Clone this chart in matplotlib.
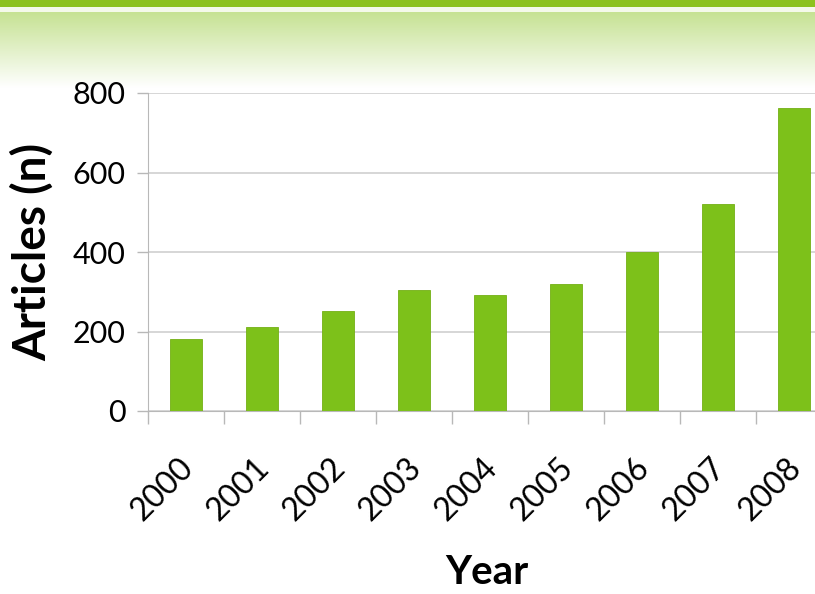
import numpy as np
import matplotlib.pyplot as plt
import matplotlib.transforms as mtransforms
from matplotlib.colors import LinearSegmentedColormap

years = ['2000', '2001', '2002', '2003', '2004', '2005', '2006', '2007', '2008']
articles = [181, 211, 252, 304, 292, 319, 400, 522, 763]
yticks = [0, 200, 400, 600, 800]

plt.rcParams['font.family'] = ['Lato', 'DejaVu Sans']

W, H = 815, 594
fig = plt.figure(figsize=(W / 100, H / 100), dpi=100)

# header band + gradient
bg = fig.add_axes([0, 0, 1, 1], zorder=0)
bg.set_axis_off()
bg.set_xlim(0, W)
bg.set_ylim(H, 0)
bg.axhspan(0, 7, color='#8cc21e', lw=0)
bg.axhspan(7, 12, color='#f4f9ea', lw=0)
cmap = LinearSegmentedColormap.from_list('g', ['#c6e293', '#ffffff'])
grad = np.linspace(0, 1, 200).reshape(-1, 1)
bg.imshow(grad, cmap=cmap, extent=[0, W, 88, 12], aspect='auto')

# plot area: left at 148px, spacing 76px per category, 0 at y=411, 800 at y=93
ax = fig.add_axes([148 / W, (H - 411) / H, 76 * 9 / W, 318 / H], zorder=1)
ax.patch.set_alpha(0)
x = np.arange(len(years))
ax.bar(x, articles, width=0.42, color='#7dc11a', edgecolor='#74b015', lw=0.6, zorder=3)
ax.set_xlim(-0.5, len(years) - 0.5)
ax.set_ylim(0, 800)
ax.set_yticks(yticks)
ax.set_yticklabels([str(v) for v in yticks], fontsize=22)
ax.set_xticks(x)
ax.set_xticklabels(years, fontsize=23, rotation=45, ha='right', rotation_mode='anchor')
ax.tick_params(axis='x', length=0, pad=30)
shift = mtransforms.ScaledTranslation(-8 / 100, 0, fig.dpi_scale_trans)
for lbl in ax.get_xticklabels():
    lbl.set_transform(lbl.get_transform() + shift)
ax.set_xticks(np.arange(len(years) + 1) - 0.5, minor=True)
ax.tick_params(axis='x', which='minor', length=9, color='#b8b8b8', width=1)
ax.tick_params(axis='y', length=8, color='#b8b8b8', width=1, pad=8)
ax.grid(axis='y', color='#d0d0d0', lw=1.2, zorder=0)
for s in ['top', 'right']:
    ax.spines[s].set_visible(False)
ax.spines['left'].set_color('#b8b8b8')
ax.spines['bottom'].set_color('#b8b8b8')

fig.text(32 / W, 1 - 252 / H, 'Articles (n)', rotation=90, fontsize=33, fontweight='bold',
         ha='center', va='center')
fig.text(487 / W, 1 - 572 / H, 'Year', fontsize=29, fontweight='bold', ha='center', va='center')

fig.savefig('out.png', dpi=100)
